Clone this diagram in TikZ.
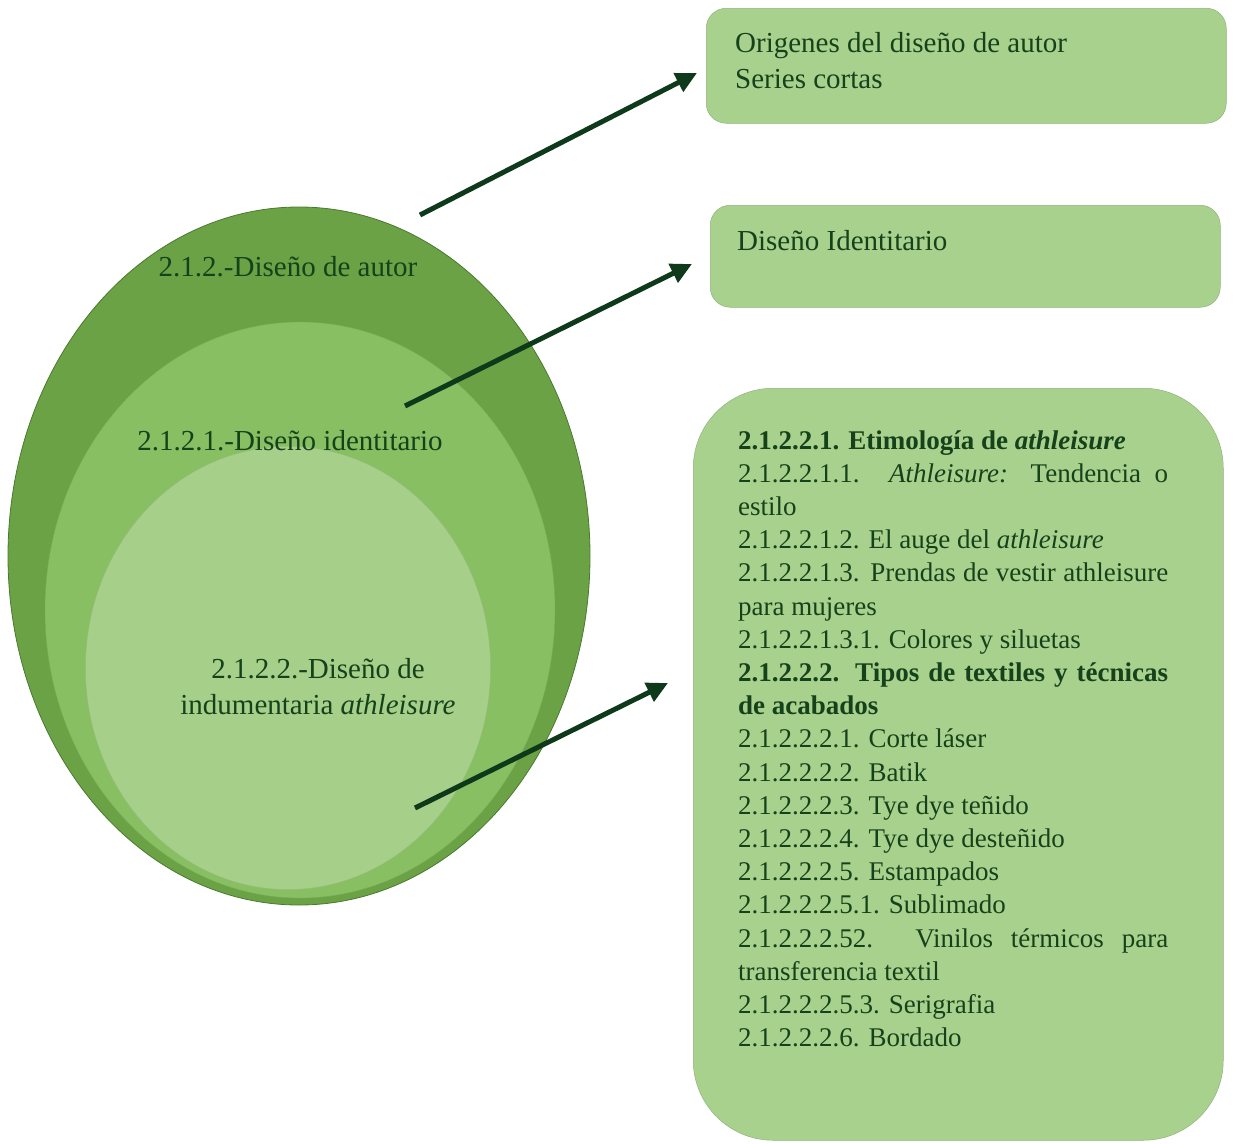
\documentclass[tikz,border=0pt]{standalone}
\usepackage{fontspec}
\setmainfont{Liberation Serif}
\usetikzlibrary{shapes.geometric,arrows.meta}
\definecolor{gOuter}{HTML}{6BA245}
\definecolor{gMid}{HTML}{88BF62}
\definecolor{gIn}{HTML}{A6CF8A}
\definecolor{gBox}{HTML}{A9D18E}
\definecolor{gEdge}{HTML}{4A7A30}
\definecolor{gText}{HTML}{15421A}
\definecolor{gArrow}{HTML}{0E3A1B}
\tikzset{
  ell/.style={ellipse, draw=gEdge, line width=0.8pt, inner sep=0pt},
  boxnode/.style={rectangle, fill=gBox, draw=gBox!85!black, line width=0.5pt, inner sep=0pt, anchor=north west},
  lbl/.style={text=gText, inner sep=0pt, font=\fontsize{29pt}{36pt}\selectfont},
  arr/.style={draw=gArrow, line width=5pt, -{Triangle[length=21pt,width=20pt]}}
}
\begin{document}
\begin{tikzpicture}[x=1pt,y=-1pt]
\useasboundingbox (0,0) rectangle (1236,1143);
% ellipses
\node[ell, fill=gOuter, minimum width=582pt, minimum height=698pt] (outer) at (299,556) {};
\node[ell, fill=gMid, draw=gMid!90!black, line width=0.4pt, minimum width=510pt, minimum height=576pt] (middle) at (300,610) {};
\node[ell, fill=gIn, draw=gIn!92!black, line width=0.4pt, minimum width=405pt, minimum height=443pt] (inner) at (288,668) {};
% ellipse labels
\node[lbl] (lautor) at (288,267) {2.1.2.-Diseño de autor};
\node[lbl] (lident) at (290,441) {2.1.2.1.-Diseño identitario};
\node[lbl, align=center] (lind) at (318,687) {2.1.2.2.-Diseño de\\indumentaria \textit{athleisure}};
% boxes
\node[boxnode, rounded corners=20pt, minimum width=520pt, minimum height=115pt] (box1) at (706,8) {};
\node[boxnode, rounded corners=20pt, minimum width=510pt, minimum height=102pt] (box2) at (710,205) {};
\node[boxnode, rounded corners=80pt, minimum width=530pt, minimum height=752pt] (box3) at (693,388) {};
% box texts
\node[lbl, anchor=base west] (t1) at (735,52) {\parbox[t]{480pt}{\fontsize{29pt}{36pt}\selectfont Origenes del diseño de autor\\Series cortas}};
\node[lbl, anchor=base west] (t2) at (737,250) {Diseño Identitario};
\node[text=gText, inner sep=0pt, anchor=base west, font=\fontsize{27pt}{33pt}\selectfont] (t3) at (738,449) {\parbox[t]{430pt}{\setlength{\parindent}{0pt}\fontsize{27pt}{33.2pt}\selectfont
\textbf{2.1.2.2.1. Etimología de \textit{athleisure}}\\
\makebox[430pt][s]{2.1.2.2.1.1. \textit{Athleisure:} Tendencia o}\\
estilo\\
2.1.2.2.1.2. El auge del \textit{athleisure}\\
\makebox[430pt][s]{2.1.2.2.1.3. Prendas de vestir athleisure}\\
para mujeres\\
2.1.2.2.1.3.1. Colores y siluetas\\
\makebox[430pt][s]{\textbf{2.1.2.2.2. Tipos de textiles y técnicas}}\\
\textbf{de acabados}\\
2.1.2.2.2.1. Corte láser\\
2.1.2.2.2.2. Batik\\
2.1.2.2.2.3. Tye dye teñido\\
2.1.2.2.2.4. Tye dye desteñido\\
2.1.2.2.2.5. Estampados\\
2.1.2.2.2.5.1. Sublimado\\
\makebox[430pt][s]{2.1.2.2.2.52. Vinilos térmicos para}\\
transferencia textil\\
2.1.2.2.2.5.3. Serigrafia\\
2.1.2.2.2.6. Bordado}};
% connectors
\coordinate (s1) at (420,215);
\coordinate (s2) at (405,406);
\coordinate (s3) at (415,808);
\coordinate (e1) at (697,73);
\coordinate (e2) at (692,264);
\coordinate (e3) at (668,683);
\draw[arr] (s1) -- (e1);
\draw[arr] (s2) -- (e2);
\draw[arr] (s3) -- (e3);
\end{tikzpicture}
\end{document}
